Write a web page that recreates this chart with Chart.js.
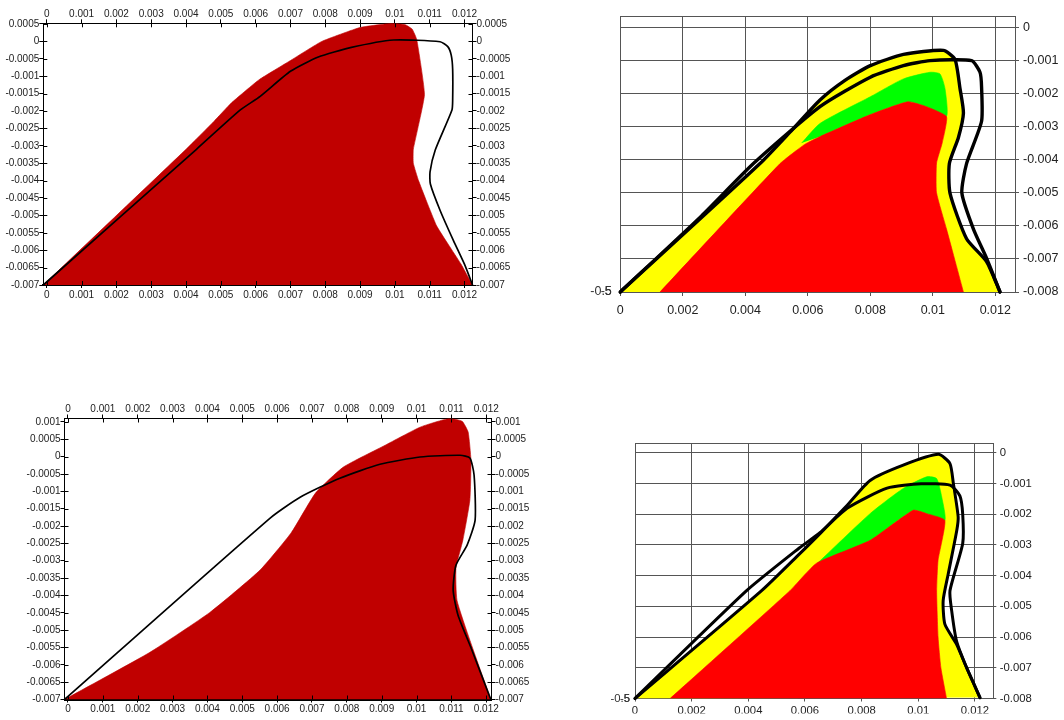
<!DOCTYPE html>
<html>
<head>
<meta charset="utf-8">
<script src="https://cdn.jsdelivr.net/npm/chart.js@4.4.1/dist/chart.umd.min.js"></script>
<style>
  html, body { margin: 0; padding: 0; background: #fff; }
  body { width: 1064px; height: 720px; position: relative; overflow: hidden; }
  canvas { position: absolute; left: 0; top: 0; }
</style>
</head>
<body>
<canvas id="upperLeft" width="1064" height="720"></canvas>
<canvas id="upperRight" width="1064" height="720"></canvas>
<canvas id="lowerLeft" width="1064" height="720"></canvas>
<canvas id="lowerRight" width="1064" height="720"></canvas>
<script>
// ---- tick values and labels ----
const fineX = [0, 0.001, 0.002, 0.003, 0.004, 0.005, 0.006, 0.007, 0.008, 0.009, 0.01, 0.011, 0.012];
const fineXLabels = ['0', '0.001', '0.002', '0.003', '0.004', '0.005', '0.006', '0.007', '0.008', '0.009', '0.01', '0.011', '0.012'];
const upperFineY = [0.0005, 0, -0.0005, -0.001, -0.0015, -0.002, -0.0025, -0.003, -0.0035, -0.004, -0.0045, -0.005, -0.0055, -0.006, -0.0065, -0.007];
const upperFineYLabels = ['0.0005', '0', '-0.0005', '-0.001', '-0.0015', '-0.002', '-0.0025', '-0.003', '-0.0035', '-0.004', '-0.0045', '-0.005', '-0.0055', '-0.006', '-0.0065', '-0.007'];
const lowerFineY = [0.001, 0.0005, 0, -0.0005, -0.001, -0.0015, -0.002, -0.0025, -0.003, -0.0035, -0.004, -0.0045, -0.005, -0.0055, -0.006, -0.0065, -0.007];
const lowerFineYLabels = ['0.001', '0.0005', '0', '-0.0005', '-0.001', '-0.0015', '-0.002', '-0.0025', '-0.003', '-0.0035', '-0.004', '-0.0045', '-0.005', '-0.0055', '-0.006', '-0.0065', '-0.007'];
const coarseX = [0, 0.002, 0.004, 0.006, 0.008, 0.01, 0.012];
const coarseXLabels = ['0', '0.002', '0.004', '0.006', '0.008', '0.01', '0.012'];
const coarseY = [0, -0.001, -0.002, -0.003, -0.004, -0.005, -0.006, -0.007, -0.008];
const coarseYLabels = ['0', '-0.001', '-0.002', '-0.003', '-0.004', '-0.005', '-0.006', '-0.007', '-0.008'];
const cornerY = [-0.008, -0.008];
const cornerYLabels = ['-0.5', '-5'];

// ---- upper-left section: solid profile and its outline ----
const ulSolid = [[-0.0001, -0.007], [0.004, -0.0031], [0.0048, -0.0023], [0.0053, -0.00177], [0.0061, -0.0011], [0.007, -0.00055], [0.0079, 0.0], [0.009, 0.0004], [0.0099, 0.00052], [0.0103, 0.00048], [0.0105, 0.00035], [0.01063, 0.00005], [0.01085, -0.00153], [0.01053, -0.0031], [0.01053, -0.0035], [0.01068, -0.004], [0.0112, -0.0053], [0.0119, -0.0064], [0.01223, -0.007]];
const ulOutline = [[-0.0001, -0.007], [0.0043, -0.0031], [0.00556, -0.00197], [0.00613, -0.00158], [0.007, -0.00086], [0.0078, -0.00045], [0.00872, -0.00018], [0.00996, 0.00004], [0.0113, -0.00001], [0.01152, -0.00015], [0.01162, -0.0004], [0.01166, -0.0008], [0.01166, -0.0017], [0.01164, -0.00197], [0.01116, -0.00312], [0.01101, -0.00375], [0.01102, -0.0041], [0.0113, -0.00486], [0.01168, -0.00572], [0.01202, -0.00645], [0.01223, -0.007]];

// ---- lower-left section ----
const llSolid = [[-0.0001, -0.007], [0.00235, -0.00564], [0.00407, -0.00449], [0.00551, -0.00327], [0.0064, -0.0022], [0.0071, -0.00105], [0.0079, -0.0003], [0.0091, 0.00033], [0.0101, 0.00085], [0.01096, 0.00111], [0.01131, 0.00102], [0.01148, 0.00071], [0.01156, -0.0001], [0.01153, -0.00125], [0.01133, -0.0024], [0.01113, -0.00321], [0.01116, -0.00414], [0.01153, -0.00529], [0.01213, -0.007]];
const llOutline = [[-0.0001, -0.007], [0.0058, -0.00177], [0.00666, -0.00117], [0.0078, -0.00062], [0.00895, -0.00022], [0.0101, -0.00001], [0.01125, 0.00004], [0.01153, -0.00004], [0.01165, -0.00053], [0.01168, -0.00183], [0.01145, -0.00255], [0.01113, -0.00313], [0.01105, -0.00385], [0.01119, -0.00457], [0.01159, -0.00558], [0.01213, -0.007]];

// ---- upper-right section: layered zones and two outlines ----
const urOuter = [[0, -0.008], [0.00447, -0.00412], [0.0055, -0.0031], [0.00639, -0.0022], [0.0072, -0.0016], [0.008, -0.00116], [0.00906, -0.00082], [0.01034, -0.0007], [0.01071, -0.00097], [0.01087, -0.00185], [0.01098, -0.00259], [0.01082, -0.00333], [0.01053, -0.00412], [0.01055, -0.00501], [0.01108, -0.00639], [0.01172, -0.00708], [0.01215, -0.008]];
const urShifted = [[0, -0.008], [0.0026, -0.0057], [0.00426, -0.00412], [0.00639, -0.0024], [0.008, -0.00151], [0.00906, -0.00116], [0.00991, -0.00101], [0.01124, -0.00101], [0.01151, -0.00136], [0.01156, -0.0018], [0.01156, -0.00284], [0.01108, -0.00412], [0.01093, -0.00501], [0.0113, -0.0061], [0.01172, -0.00698], [0.01215, -0.008]];
const urMiddle = [[0.0058, -0.0035], [0.0064, -0.0029], [0.008, -0.0021], [0.00906, -0.00156], [0.00991, -0.00136], [0.01023, -0.00141], [0.01039, -0.00185], [0.01044, -0.00269], [0.0098, -0.0024], [0.0092, -0.00225], [0.008, -0.00264], [0.0064, -0.0033]];
const urCore = [[0.00127, -0.008], [0.00511, -0.00412], [0.0059, -0.00354], [0.0064, -0.0033], [0.008, -0.00264], [0.0092, -0.00225], [0.0098, -0.0024], [0.01044, -0.0027], [0.0103, -0.0035], [0.01012, -0.0041], [0.01012, -0.005], [0.01044, -0.0061], [0.01098, -0.008]];

// ---- lower-right section ----
const lrOuter = [[0, -0.008], [0.00447, -0.00449], [0.0058, -0.0033], [0.00653, -0.00263], [0.0075, -0.0017], [0.0083, -0.0009], [0.00947, -0.0004], [0.01071, -0.00005], [0.01112, -0.00035], [0.01124, -0.001], [0.01141, -0.00209], [0.01136, -0.00253], [0.01106, -0.00394], [0.01088, -0.00481], [0.01094, -0.00558], [0.01135, -0.00623], [0.01171, -0.007], [0.01218, -0.00797]];
const lrShifted = [[0, -0.008], [0.00394, -0.00449], [0.0058, -0.0031], [0.00653, -0.0026], [0.0075, -0.0018], [0.0089, -0.00115], [0.0101, -0.00101], [0.01112, -0.00105], [0.01147, -0.0014], [0.01157, -0.002], [0.01157, -0.00295], [0.01112, -0.00449], [0.01118, -0.00514], [0.01135, -0.00612], [0.01171, -0.007], [0.01218, -0.00797]];
const lrMiddle = [[0.00646, -0.00358], [0.0083, -0.00198], [0.00947, -0.00116], [0.0103, -0.00078], [0.01065, -0.00084], [0.01083, -0.00144], [0.01094, -0.0022], [0.0103, -0.00198], [0.00982, -0.00187], [0.0083, -0.00285], [0.00653, -0.00356]];
const lrCore = [[0.00124, -0.008], [0.00547, -0.00449], [0.0064, -0.0036], [0.0083, -0.00285], [0.00982, -0.00187], [0.0103, -0.00198], [0.01094, -0.0022], [0.0107, -0.0035], [0.01065, -0.0045], [0.0107, -0.006], [0.0108, -0.007], [0.011, -0.008]];

// ---- helpers ----
const SANS = '"Liberation Sans", Arial, Helvetica, sans-serif';
const pts = arr => arr.map(([x, y]) => ({ x, y }));
const fixedSize = px => s => { if (s.isHorizontal()) s.height = px; else s.width = px; };
const useTicks = values => s => { s.ticks = values.map(v => ({ value: v })); };

// "+" style tick marks: the library draws the outer half, this adds the inner half
const crossTicks = {
  id: 'crossTicks',
  afterDraw(chart, args, opts) {
    const a = chart.chartArea, ctx = chart.ctx, len = opts.len || 4;
    ctx.save();
    ctx.strokeStyle = '#000';
    ctx.lineWidth = 1;
    ctx.beginPath();
    Object.values(chart.scales).forEach(s => {
      s.ticks.forEach(t => {
        const p = Math.round(s.getPixelForValue(t.value)) + 0.5;
        if (s.position === 'top') { ctx.moveTo(p, a.top); ctx.lineTo(p, a.top + len); }
        else if (s.position === 'bottom') { ctx.moveTo(p, a.bottom); ctx.lineTo(p, a.bottom - len); }
        else if (s.position === 'left') { ctx.moveTo(a.left, p); ctx.lineTo(a.left + len, p); }
        else if (s.position === 'right') { ctx.moveTo(a.right, p); ctx.lineTo(a.right - len, p); }
      });
    });
    ctx.stroke();
    ctx.restore();
  }
};

// box around the gridded plot area
const frame = {
  id: 'frame',
  beforeDatasetsDraw(chart, args, opts) {
    const a = chart.chartArea, ctx = chart.ctx;
    ctx.save();
    ctx.strokeStyle = opts.color || '#555';
    ctx.lineWidth = 1;
    ctx.strokeRect(Math.round(a.left) + 0.5, Math.round(a.top) + 0.5, Math.round(a.right - a.left), Math.round(a.bottom - a.top));
    ctx.restore();
  }
};

function solid(data, color, order, tension) {
  return { data: pts(data), showLine: true, fill: 'shape', backgroundColor: color, borderColor: color,
           borderWidth: 0.6, pointRadius: 0, tension: tension, order: order };
}
function outline(data, width, order, tension) {
  return { data: pts(data), showLine: true, fill: false, borderColor: '#000', borderWidth: width,
           pointRadius: 0, tension: tension, order: order, borderJoinStyle: 'round', borderCapStyle: 'round', clip: 4 };
}

function axisScale(position, min, max, values, labels, cfg) {
  return {
    type: 'linear', position: position, min: min, max: max, bounds: 'data',
    afterBuildTicks: useTicks(values),
    afterFit: fixedSize(cfg.size),
    ticks: { callback: (v, i) => labels[i], autoSkip: false, maxRotation: 0, minRotation: 0,
             font: { family: SANS, size: cfg.fontSize }, color: cfg.textColor || '#222', padding: cfg.pad },
    grid: cfg.grid,
    border: cfg.border
  };
}

function panel(id, padding, scales, datasets, pluginOpts) {
  new Chart(document.getElementById(id), {
    type: 'scatter',
    data: { datasets: datasets },
    options: {
      responsive: false, animation: false, devicePixelRatio: 1, events: [],
      layout: { padding: padding },
      plugins: Object.assign({ legend: { display: false }, tooltip: { enabled: false } }, pluginOpts),
      scales: scales
    },
    plugins: [crossTicks, frame]
  });
}

// ---- classic four-sided axes sections ----
function crossAxes(xMin, xMax, yMin, yMax, yValues, yLabels) {
  const g = len => ({ display: true, drawOnChartArea: false, drawTicks: true, tickLength: len, color: '#000', lineWidth: 1 });
  const b = w => ({ display: true, color: '#000', width: w });
  return {
    x:  axisScale('bottom', xMin, xMax, fineX, fineXLabels, { size: 20, fontSize: 10, pad: 1, grid: g(3), border: b(2) }),
    x2: axisScale('top', xMin, xMax, fineX, fineXLabels, { size: 20, fontSize: 10, pad: -1, grid: g(4), border: b(1) }),
    y:  axisScale('left', yMin, yMax, yValues, yLabels, { size: 40, fontSize: 10, pad: 0, grid: g(4), border: b(1) }),
    y2: axisScale('right', yMin, yMax, yValues, yLabels, { size: 50, fontSize: 10, pad: 0, grid: g(4), border: b(1) })
  };
}

panel('upperLeft', { left: 3.3, right: 541.5, top: 3.3, bottom: 415 },
  crossAxes(-0.0001, 0.01223, -0.007, 0.00052, upperFineY, upperFineYLabels),
  [ solid(ulSolid, '#c00000', 2, 0.12), outline(ulOutline, 1.7, 1, 0.2) ],
  { crossTicks: { len: 4 }, frame: false });

panel('lowerLeft', { left: 24.5, right: 522.5, top: 398.5, bottom: 0.5 },
  crossAxes(-0.0001, 0.01215, -0.007, 0.0011, lowerFineY, lowerFineYLabels),
  [ solid(llSolid, '#c00000', 2, 0.15), outline(llOutline, 1.7, 1, 0.2) ],
  { crossTicks: { len: 4 }, frame: false });

// ---- gridded sections ----
function gridAxes(xMax, yMax, fontSize, tick, padX, padY, padCorner, sizes) {
  const g = { display: true, drawOnChartArea: true, drawTicks: true, tickLength: tick, color: '#555', lineWidth: 1 };
  const b = { display: true, color: '#555', width: 1 };
  return {
    x:  axisScale('bottom', 0, xMax, coarseX, coarseXLabels, { size: sizes.bottom, fontSize: fontSize, pad: padX, grid: g, border: b }),
    y:  axisScale('right', -0.008, yMax, coarseY, coarseYLabels, { size: sizes.right, fontSize: fontSize, pad: padY, grid: g, border: b }),
    yl: axisScale('left', -0.008, yMax, cornerY, cornerYLabels, { size: sizes.left, fontSize: fontSize, pad: padCorner, textColor: '#333',
                  grid: { display: false, drawTicks: false }, border: { display: false } })
  };
}

panel('upperRight', { left: 580.3, right: 1, top: 10, bottom: 398 },
  gridAxes(0.01263, 0.00034, 12.5, 4, 7, 4, 8.5, { bottom: 30, right: 48, left: 40 }),
  [ solid(urOuter, '#ffff00', 5, 0.2), solid(urMiddle, '#00ff00', 4, 0.2), solid(urCore, '#ff0000', 3, 0.15),
    outline(urShifted, 3.4, 2, 0.2), outline(urOuter, 3.4, 1, 0.2) ],
  { crossTicks: false, frame: { color: '#555' } });

panel('lowerRight', { left: 605, right: 30.7, top: 443.3, bottom: 6.5 },
  gridAxes(0.01265, 0.00031, 11.3, 3, 2.5, 3.5, 5, { bottom: 15, right: 40, left: 30 }),
  [ solid(lrOuter, '#ffff00', 5, 0.2), solid(lrMiddle, '#00ff00', 4, 0.2), solid(lrCore, '#ff0000', 3, 0.15),
    outline(lrShifted, 3, 2, 0.2), outline(lrOuter, 3, 1, 0.2) ],
  { crossTicks: false, frame: { color: '#555' } });
</script>
</body>
</html>
